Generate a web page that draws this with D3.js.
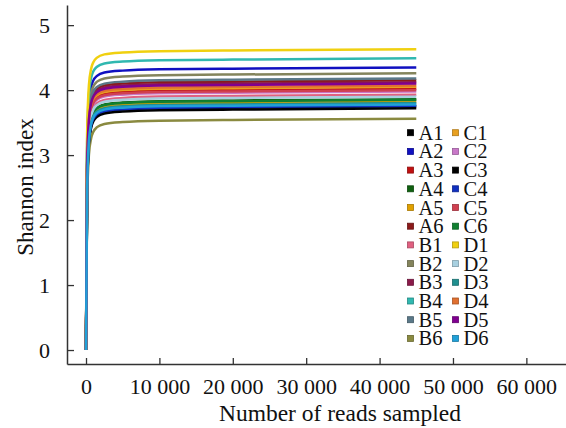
<!DOCTYPE html>
<html>
<head>
<meta charset="utf-8">
<script src="https://cdn.jsdelivr.net/npm/d3@7"></script>
<style>
html,body{margin:0;padding:0;background:#fff;}
svg{display:block;}
text{font-family:"Liberation Serif","Times New Roman",serif;fill:#111;}
</style>
</head>
<body>
<svg id="chart" width="566" height="428"></svg>
<script>
const reads = [0, 150, 400, 700, 1000, 1500, 2500, 5000, 10000, 20000, 45000];
const seriesNames = ["A1","A2","A3","A4","A5","A6","B1","B2","B3","B4","B5","B6",
                     "C1","C2","C3","C4","C5","C6","D1","D2","D3","D4","D5","D6"];
const seriesColors = ["#000000","#1010c0","#c01010","#106010","#e0a000","#8b1a1a",
                      "#e06080","#84845c","#8b1a4a","#30b8b0","#5a7888","#8a8a40",
                      "#e8a020","#c878c8","#000000","#1030c0","#d04050","#108030",
                      "#f0d010","#a8d0e0","#209090","#e07030","#800090","#20a0d8"];
const A1 = [0, 2.42, 3.17, 3.42, 3.52, 3.59, 3.64, 3.67, 3.69, 3.70, 3.72];
const A2 = [0, 3.05, 3.80, 4.05, 4.15, 4.22, 4.27, 4.30, 4.32, 4.33, 4.35];
const A3 = [0, 2.72, 3.47, 3.72, 3.82, 3.89, 3.94, 3.97, 3.99, 4.00, 4.02];
const A4 = [0, 2.56, 3.31, 3.56, 3.66, 3.73, 3.78, 3.81, 3.83, 3.84, 3.86];
const A5 = [0, 2.52, 3.27, 3.52, 3.62, 3.69, 3.74, 3.77, 3.79, 3.80, 3.82];
const A6 = [0, 2.85, 3.60, 3.85, 3.95, 4.02, 4.07, 4.10, 4.12, 4.13, 4.15];
const B1 = [0, 2.63, 3.38, 3.63, 3.73, 3.80, 3.85, 3.88, 3.90, 3.91, 3.93];
const B2 = [0, 2.96, 3.71, 3.96, 4.06, 4.13, 4.18, 4.21, 4.23, 4.24, 4.26];
const B3 = [0, 2.82, 3.57, 3.82, 3.92, 3.99, 4.04, 4.07, 4.09, 4.10, 4.12];
const B4 = [0, 3.19, 3.94, 4.19, 4.29, 4.36, 4.41, 4.44, 4.46, 4.47, 4.49];
const B5 = [0, 2.88, 3.63, 3.88, 3.98, 4.05, 4.10, 4.13, 4.15, 4.16, 4.18];
const B6 = [0, 2.26, 3.01, 3.26, 3.36, 3.43, 3.48, 3.51, 3.53, 3.54, 3.56];
const C1 = [0, 2.75, 3.50, 3.75, 3.85, 3.92, 3.97, 4.00, 4.02, 4.03, 4.05];
const C2 = [0, 2.68, 3.43, 3.68, 3.78, 3.85, 3.90, 3.93, 3.95, 3.96, 3.98];
const C3 = [0, 2.45, 3.20, 3.45, 3.55, 3.62, 3.67, 3.70, 3.72, 3.73, 3.75];
const C4 = [0, 2.46, 3.21, 3.46, 3.56, 3.63, 3.68, 3.71, 3.73, 3.74, 3.76];
const C5 = [0, 2.70, 3.45, 3.70, 3.80, 3.87, 3.92, 3.95, 3.97, 3.98, 4.00];
const C6 = [0, 2.55, 3.30, 3.55, 3.65, 3.72, 3.77, 3.80, 3.82, 3.83, 3.85];
const D1 = [0, 3.33, 4.08, 4.33, 4.43, 4.50, 4.55, 4.58, 4.60, 4.61, 4.63];
const D2 = [0, 2.60, 3.35, 3.60, 3.70, 3.77, 3.82, 3.85, 3.87, 3.88, 3.90];
const D3 = [0, 2.50, 3.25, 3.50, 3.60, 3.67, 3.72, 3.75, 3.77, 3.78, 3.80];
const D4 = [0, 2.77, 3.52, 3.77, 3.87, 3.94, 3.99, 4.02, 4.04, 4.05, 4.07];
const D5 = [0, 2.80, 3.55, 3.80, 3.90, 3.97, 4.02, 4.05, 4.07, 4.08, 4.10];
const D6 = [0, 2.48, 3.23, 3.48, 3.58, 3.65, 3.70, 3.73, 3.75, 3.76, 3.78];
const seriesValues = [A1,A2,A3,A4,A5,A6,B1,B2,B3,B4,B5,B6,C1,C2,C3,C4,C5,C6,D1,D2,D3,D4,D5,D6];
const xTickValues = [0, 10000, 20000, 30000, 40000, 50000, 60000];
const xTickLabels = ["0","10 000","20 000","30 000","40 000","50 000","60 000"];
const yTickValues = [0, 1, 2, 3, 4, 5];

const svg = d3.select("#chart");
const axisColor = "#333";

const x = d3.scaleLinear().domain([-2590, 65400]).range([67, 566]);
const y = d3.scaleLinear().domain([-0.215, 5.31]).range([364, 5]);

// Lines
const line = d3.line().x((d,i)=>x(reads[i])).y(d=>y(d)).curve(d3.curveMonotoneX);
const g = svg.append("g");
seriesValues.forEach((vals, k) => {
  g.append("path").datum(vals)
    .attr("d", line)
    .attr("fill","none")
    .attr("stroke", seriesColors[k])
    .attr("stroke-width", 2.5)
    .attr("stroke-linejoin","round");
});

// Axes
const xAxis = d3.axisBottom(x).tickValues(xTickValues)
  .tickFormat((d,i)=>xTickLabels[i]).tickSizeInner(-6).tickSizeOuter(0).tickPadding(14);
const gx = svg.append("g").attr("transform","translate(0,364)").call(xAxis);
gx.select(".domain").attr("stroke",axisColor).attr("stroke-width",1.5);
gx.selectAll(".tick line").attr("stroke",axisColor).attr("stroke-width",1.3);
gx.selectAll(".tick text").attr("font-size",22).attr("font-family","Liberation Serif").attr("fill","#111");

const yAxis = d3.axisLeft(y).tickValues(yTickValues).tickFormat(d3.format("d"))
  .tickSizeInner(-7).tickSizeOuter(0).tickPadding(17);
const gy = svg.append("g").attr("transform","translate(67,0)").call(yAxis);
gy.select(".domain").attr("stroke",axisColor).attr("stroke-width",1.5);
gy.selectAll(".tick line").attr("stroke",axisColor).attr("stroke-width",1.3);
gy.selectAll(".tick text").attr("font-size",22).attr("font-family","Liberation Serif").attr("fill","#111");

// Axis titles
svg.append("text").attr("x",340).attr("y",421).attr("text-anchor","middle")
  .attr("font-size",23.5).text("Number of reads sampled");
svg.append("text").attr("transform","translate(33,187) rotate(-90)")
  .attr("text-anchor","middle").attr("font-size",23).text("Shannon index");

// Legend
const legend = svg.append("g");
seriesNames.forEach((name, k) => {
  const col = Math.floor(k / 12), row = k % 12;
  const cx = col === 0 ? 410.5 : 455.5;
  const cy = 132.7 + row * 18.7;
  legend.append("rect").attr("x", cx - 3).attr("y", cy - 3).attr("width", 6).attr("height", 6)
    .attr("fill", seriesColors[k]).attr("stroke", d3.color(seriesColors[k]).darker(0.8)).attr("stroke-width", 0.8);
  legend.append("text").attr("x", cx + 8).attr("y", cy + 7).attr("font-size", 20.5).text(name);
});
</script>
</body>
</html>
